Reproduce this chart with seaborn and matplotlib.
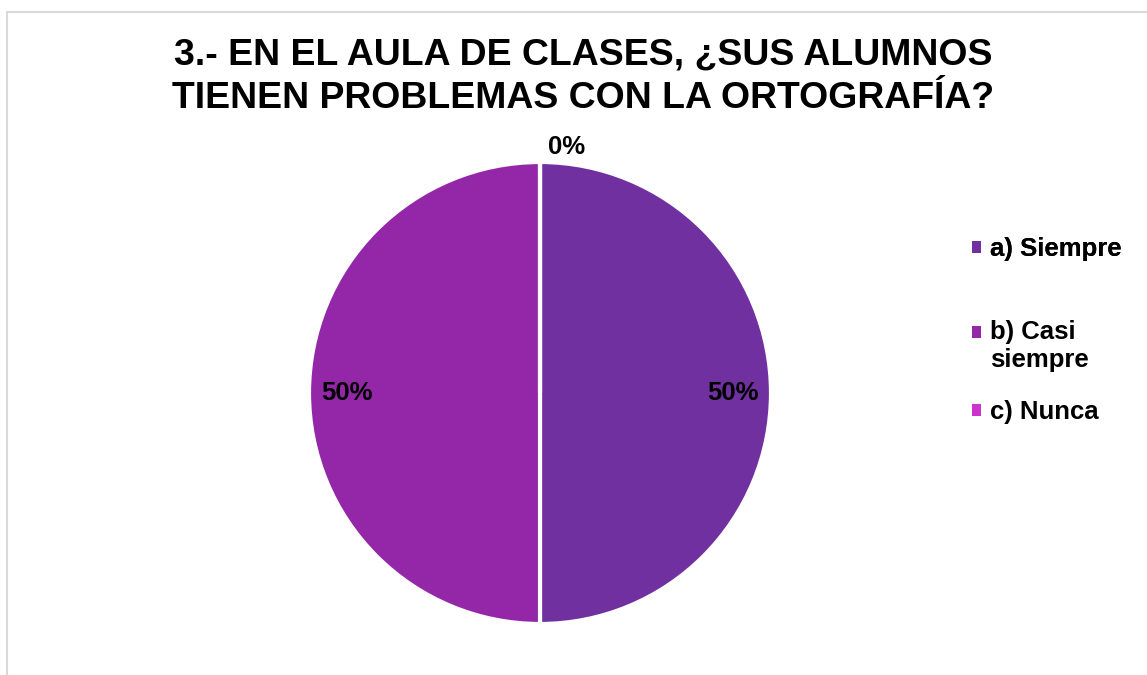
import matplotlib
matplotlib.use("Agg")
import matplotlib.pyplot as plt
import seaborn as sns
from matplotlib.patches import Rectangle, Patch
from matplotlib.legend_handler import HandlerPatch

# datos de la encuesta
categorias = ["a) Siempre", "b) Casi\nsiempre", "c) Nunca"]
valores = [50, 50, 0]
colores = ["#7030A0", "#9427A8", "#CC33CC"]
titulo = "3.- EN EL AULA DE CLASES, ¿SUS ALUMNOS\nTIENEN PROBLEMAS CON LA ORTOGRAFÍA?"

sns.set_theme(style="white")
plt.rcParams["font.family"] = ["Liberation Sans", "DejaVu Sans"]
plt.rcParams["text.color"] = "black"

W, H = 1147, 675
fig = plt.figure(figsize=(W / 100, H / 100), dpi=100)

# marco gris del area del grafico
fig.patches.append(Rectangle((6.5 / W, -0.1), 1.2, 1 - 11.5 / H + 0.1,
                             transform=fig.transFigure, fill=False,
                             edgecolor="#D9D9D9", linewidth=1.5))

cx, cy, r = 540, 393, 231
ax = fig.add_axes([(cx - r) / W, (H - cy - r) / H, 2 * r / W, 2 * r / H])

wedges, textos, pcts = ax.pie(
    valores, colors=colores, startangle=90, counterclock=False,
    autopct="%1.0f%%", pctdistance=0.835, radius=1,
    wedgeprops=dict(edgecolor="white", linewidth=3),
    textprops=dict(fontsize=18.5, fontweight="bold", color="black"),
)
ax.set_xlim(-1, 1)
ax.set_ylim(-1, 1)
ax.set_aspect("equal")

# la etiqueta de 0% va fuera del pastel, arriba
pcts[2].set_position((0.115, 1.065))

fig.text(583 / W, 1 - 77 / H, titulo, ha="center", va="center",
         fontsize=26.9, fontweight="bold", linespacing=1.3)

# leyenda: cuadritos sin borde blanco
marcas = [Patch(facecolor=c, edgecolor="none") for c in colores]


def cuadro_arriba(legend, orig_handle, xdescent, ydescent, width, height, fontsize):
    # el cuadrito de la etiqueta de dos lineas va a la altura de la primera linea
    return Rectangle((-xdescent, -ydescent + 0.56 * fontsize), width, height)


opciones = dict(loc="center left", frameon=False, borderpad=0, borderaxespad=0,
                prop=dict(size=18.5, weight="bold"),
                handlelength=0.35, handleheight=0.35, handletextpad=0.35)

leg1 = fig.legend(marcas[:1], categorias[:1],
                  bbox_to_anchor=(972 / W, 1 - 249 / H), **opciones)
fig.add_artist(leg1)
leg2 = fig.legend(marcas[1:], categorias[1:],
                  bbox_to_anchor=(972 / W, 1 - 372 / H), labelspacing=1.1,
                  handler_map={marcas[1]: HandlerPatch(patch_func=cuadro_arriba)},
                  **opciones)

fig.savefig("out.png", dpi=100)
